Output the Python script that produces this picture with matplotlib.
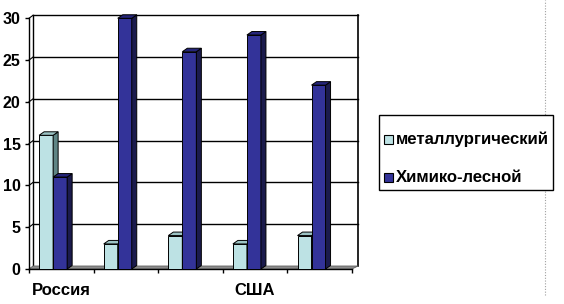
import numpy as np
import matplotlib
matplotlib.use('Agg')
import matplotlib.pyplot as plt
from matplotlib.patches import Polygon, Rectangle
from matplotlib.lines import Line2D

# Datos
categorias = ['Россия', '', '', 'США', '']
metalurgico = [16, 3, 4, 3, 4]
quimico = [11, 30, 26, 28, 22]
series = ['металлургический', 'Химико-лесной']
yticks = [0, 5, 10, 15, 20, 25, 30]

plt.rcParams['font.family'] = ['Liberation Sans', 'DejaVu Sans']

W, H = 564, 304
fig = plt.figure(figsize=(W / 100, H / 100), dpi=100)

# eje frontal en píxeles
x0, x1 = 29, 352
y0, y1 = 269, 18.3
ax = fig.add_axes([x0 / W, (H - y0) / H, (x1 - x0) / W, (y0 - y1) / H])
ax.set_xlim(-0.5, 4.5)
ax.set_ylim(0, 30)

# conversión píxel -> datos para la profundidad
px_x = 5.0 / (x1 - x0)
px_y = 30.0 / (y0 - y1)
wdx, wdy = 4 * px_x, 3 * px_y        # pared del fondo
bdx, bdy = 5 * px_x, 3.5 * px_y      # profundidad de barras

# suelo gris
ax.add_patch(Polygon([(-0.5, 0), (4.5, 0), (4.5 + wdx + 2 * px_x, wdy),
                      (-0.5 + wdx, wdy)], closed=True, facecolor='#8c8c8c',
                     edgecolor='#606060', lw=0.6, zorder=1, clip_on=False))

# rejilla en la pared del fondo
xr = 4.5 + wdx + 2 * px_x
for v in yticks[1:]:
    ax.plot([-0.5 + wdx, xr], [v + wdy, v + wdy], color='black', lw=1.0,
            zorder=0.5, clip_on=False)
    ax.plot([-0.5, -0.5 + wdx], [v, v + wdy], color='black', lw=0.8,
            zorder=0.5, clip_on=False)
ax.plot([-0.5 + wdx, -0.5 + wdx], [wdy, 30 + wdy], color='black', lw=1.0,
        zorder=0.5, clip_on=False)
ax.plot([xr, xr], [wdy, 30 + wdy], color='black', lw=1.2, zorder=0.5,
        clip_on=False)

# barras con caras laterales y superiores
ancho = 0.217
colores = [('#bde2e4', '#5f8585', '#9cc3c4'), ('#333399', '#1b1b4d', '#25257a')]
x = np.arange(len(categorias))
for k, (vals, off) in enumerate([(metalurgico, -0.235), (quimico, -0.018)]):
    fc, sc, tc = colores[k]
    ax.bar(x + off, vals, width=ancho, color=fc, edgecolor='black', lw=0.7,
           zorder=3 + k, label=series[k])
    for xi, v in zip(x + off, vals):
        xa, xb = xi - ancho / 2, xi + ancho / 2
        ax.add_patch(Polygon([(xb, 0), (xb + bdx, bdy), (xb + bdx, v + bdy), (xb, v)],
                             closed=True, facecolor=sc, edgecolor='black', lw=0.7,
                             zorder=3 + k, clip_on=False))
        ax.add_patch(Polygon([(xa, v), (xa + bdx, v + bdy), (xb + bdx, v + bdy), (xb, v)],
                             closed=True, facecolor=tc, edgecolor='black', lw=0.7,
                             zorder=3 + k, clip_on=False))

# ejes
for s in ['top', 'right']:
    ax.spines[s].set_visible(False)
ax.spines['left'].set_linewidth(1.0)
ax.spines['bottom'].set_linewidth(1.0)
ax.spines['bottom'].set_zorder(2)
ax.set_yticks(yticks)
ax.set_yticklabels([str(v) for v in yticks], fontsize=11.5, fontweight='bold')
ax.tick_params(axis='y', length=3, width=1, pad=3)
ax.set_xticks(np.arange(-0.5, 5, 1.0))
ax.set_xticklabels([])
ax.set_xticks(x, minor=True)
ax.set_xticklabels(categorias, minor=True, fontsize=12, fontweight='bold')
ax.tick_params(axis='x', which='major', length=3, width=1, direction='out')
ax.tick_params(axis='x', which='minor', length=0, pad=10)
ax.patch.set_visible(False)

# línea punteada de selección a la derecha
fig.add_artist(Line2D([545 / W, 545 / W], [(H - 295) / H, 1], color='#a0a0a0',
                      lw=0.8, ls=(0, (1, 1.5)), zorder=0))

# leyenda (dibujada a mano en coordenadas de figura)
fig.add_artist(Rectangle((379 / W, (H - 190) / H), 174 / W, 75 / H,
                         facecolor='white', edgecolor='black', lw=1.0,
                         transform=fig.transFigure, zorder=5))
for i, yc in enumerate([139, 177]):
    fig.add_artist(Rectangle((384 / W, (H - yc - 4.5) / H), 9 / W, 9 / H,
                             facecolor=colores[i][0], edgecolor='black', lw=0.8,
                             transform=fig.transFigure, zorder=6))
    fig.text(396 / W, (H - yc) / H, series[i], fontsize=12.1, fontweight='bold',
             va='center', ha='left', zorder=6)

fig.savefig('out.png', dpi=100)
